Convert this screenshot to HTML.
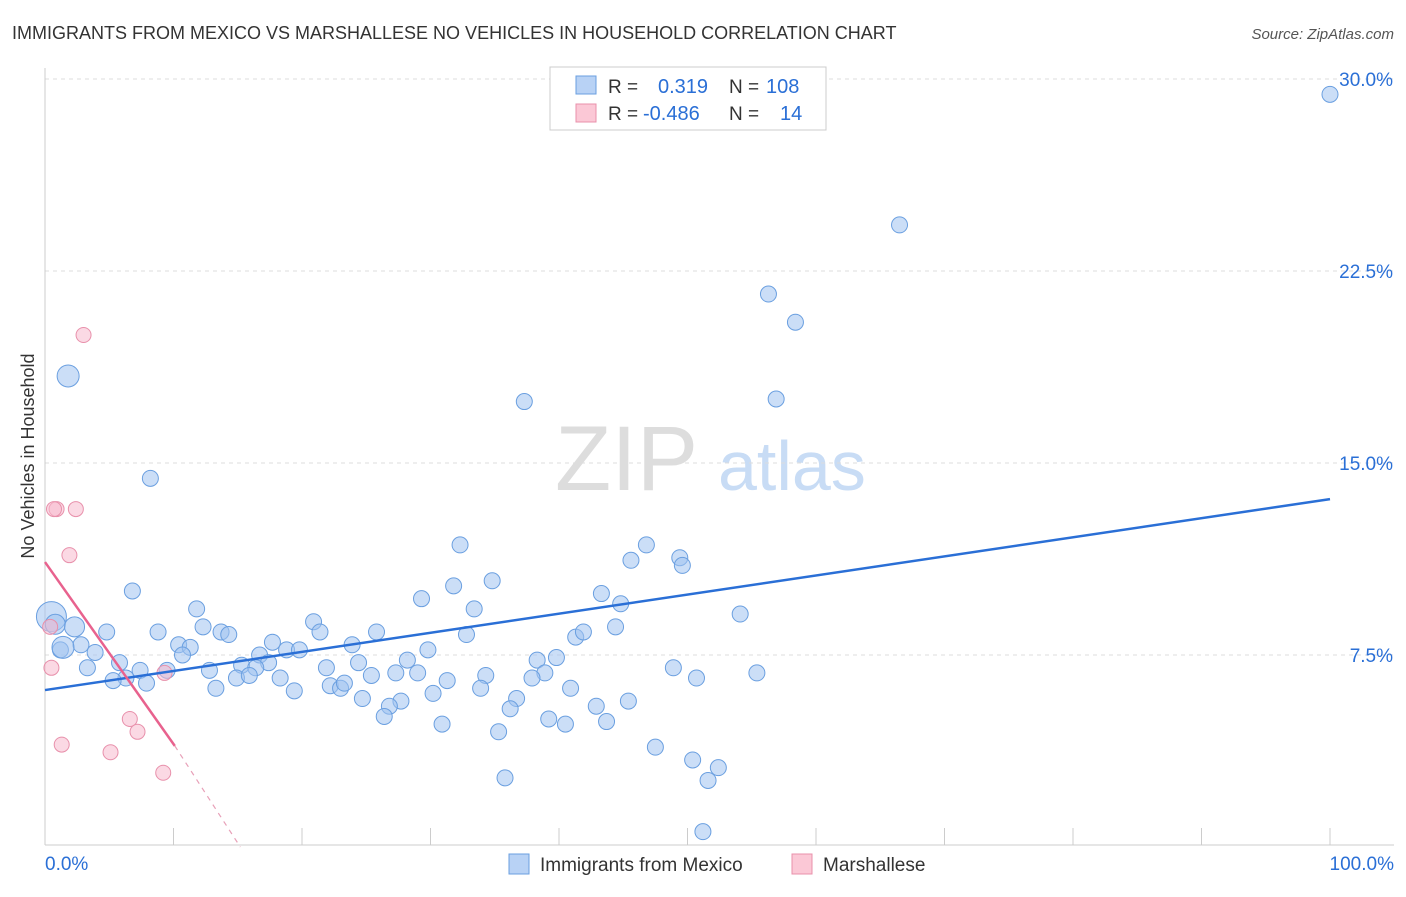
<!DOCTYPE html>
<html><head><meta charset="utf-8"><style>
body{margin:0;background:#fff;font-family:"Liberation Sans",sans-serif;}
svg text{font-family:"Liberation Sans",sans-serif;}
</style></head><body>
<svg width="1406" height="892" viewBox="0 0 1406 892">
<text x="12" y="39" font-size="18" fill="#333">IMMIGRANTS FROM MEXICO VS MARSHALLESE NO VEHICLES IN HOUSEHOLD CORRELATION CHART</text>
<text x="1394" y="39" font-size="15" fill="#555" text-anchor="end" font-style="italic">Source: ZipAtlas.com</text>
<text transform="translate(34,456) rotate(-90)" font-size="18" fill="#333" text-anchor="middle">No Vehicles in Household</text>
<g><text x="555" y="490" font-size="92" fill="#ddd" font-family="Liberation Serif">ZIP</text><text x="718" y="490" font-size="70" fill="#c8dcf5">atlas</text></g>
<g id="grid"></g><g id="axes"></g><g id="marks"></g>
<g>
<rect x="550" y="67" width="276" height="63" fill="#fff" stroke="#ccc"/>
<rect x="576" y="76" width="20" height="18" fill="#b8d2f5" stroke="#6a9fe0"/>
<rect x="576" y="104" width="20" height="18" fill="#fbc8d6" stroke="#e890ab"/>
<text x="608" y="93" font-size="19" fill="#333">R = </text><text x="658" y="93" font-size="20" fill="#2a6fd6">0.319</text><text x="729" y="93" font-size="19" fill="#333">N = </text><text x="766" y="93" font-size="20" fill="#2a6fd6">108</text>
<text x="608" y="120" font-size="19" fill="#333">R = </text><text x="643" y="120" font-size="20" fill="#2a6fd6">-0.486</text><text x="729" y="120" font-size="19" fill="#333">N = </text><text x="780" y="120" font-size="20" fill="#2a6fd6">14</text>
</g>
<g>
<rect x="509" y="854" width="20" height="20" fill="#b8d2f5" stroke="#6a9fe0"/><text x="540" y="871" font-size="19" fill="#333">Immigrants from Mexico</text>
<rect x="792" y="854" width="20" height="20" fill="#fbc8d6" stroke="#e890ab"/><text x="823" y="871" font-size="19" fill="#333">Marshallese</text>
</g>
</svg>
<script>
const blueX=[100,66.5,56.3,58.4,56.9,37.3,1.8,8.2,32.3,46.8,45.6,49.4,49.6,34.8,31.8,6.8,29.3,43.3,44.8,11.8,33.4,54.1,20.9,12.3,8.8,4.8,13.7,14.3,21.4,25.8,32.8,41.3,41.9,44.4,10.4,17.7,11.3,23.9,29.8,2.8,1.2,3.9,10.7,16.7,18.8,19.8,5.8,15.3,17.4,28.2,38.3,39.8,3.3,7.4,9.5,12.8,21.9,24.4,16.4,48.9,55.4,6.3,5.3,7.9,14.9,15.9,18.3,25.4,27.3,29.0,34.3,38.9,50.7,31.3,37.9,22.2,23.0,23.3,19.4,13.3,30.2,33.9,40.9,24.7,27.7,36.7,26.8,45.4,26.4,36.2,42.9,39.2,43.7,40.5,30.9,35.3,47.5,50.4,52.4,51.6,35.8,51.2,0.5,0.8,2.3,1.4];
const blueY=[29.4,24.3,21.6,20.5,17.5,17.4,18.4,14.4,11.8,11.8,11.2,11.3,11.0,10.4,10.2,10.0,9.7,9.9,9.5,9.3,9.3,9.1,8.8,8.6,8.4,8.4,8.4,8.3,8.4,8.4,8.3,8.2,8.4,8.6,7.9,8.0,7.8,7.9,7.7,7.9,7.7,7.6,7.5,7.5,7.7,7.7,7.2,7.1,7.2,7.3,7.3,7.4,7.0,6.9,6.9,6.9,7.0,7.2,7.0,7.0,6.8,6.6,6.5,6.4,6.6,6.7,6.6,6.7,6.8,6.8,6.7,6.8,6.6,6.5,6.6,6.3,6.2,6.4,6.1,6.2,6.0,6.2,6.2,5.8,5.7,5.8,5.5,5.7,5.1,5.4,5.5,5.0,4.9,4.8,4.8,4.5,3.9,3.4,3.1,2.6,2.7,0.6,9.0,8.7,8.6,7.8];
const blueBig=[0,0,0,0,0,0,11,0,0,0,0,0,0,0,0,0,0,0,0,0,0,0,0,0,0,0,0,0,0,0,0,0,0,0,0,0,0,0,0,0,0,0,0,0,0,0,0,0,0,0,0,0,0,0,0,0,0,0,0,0,0,0,0,0,0,0,0,0,0,0,0,0,0,0,0,0,0,0,0,0,0,0,0,0,0,0,0,0,0,0,0,0,0,0,0,0,0,0,0,0,0,0,15,10,10,11];
const pinkX=[3.0,0.9,2.4,1.9,0.4,0.5,6.6,1.3,7.2,5.1,9.2,9.3,0.7];
const pinkY=[20.0,13.2,13.2,11.4,8.6,7.0,5.0,4.0,4.5,3.7,2.9,6.8,13.2];
const yTicks=[7.5,15,22.5,30];
const yTickLabels=["7.5%","15.0%","22.5%","30.0%"];
const blueTrend=[[0,6.13],[100,13.59]];
const pinkTrend=[[0,11.13],[10.1,3.95],[15.2,0]];
const NS="http://www.w3.org/2000/svg";
const sx=v=>45+v*12.85, sy=v=>847-v*25.6;
function mk(t,a,p){const e=document.createElementNS(NS,t);for(const k in a)e.setAttribute(k,a[k]);p.appendChild(e);return e;}
const grid=document.getElementById('grid'),axes=document.getElementById('axes'),marks=document.getElementById('marks');
yTicks.forEach((t,i)=>{
 const l=mk('line',{x1:45,x2:1394,y1:sy(t),y2:sy(t),stroke:'#ddd','stroke-dasharray':'4,4'},grid);
 
 
 const tx=mk('text',{x:1393,y:sy(t)+7,'font-size':19,fill:'#2a6fd6','text-anchor':'end'},axes);
 tx.textContent=yTickLabels[i];
 
 
});
mk('line',{x1:45,x2:1394,y1:79,y2:79,stroke:'#ddd','stroke-dasharray':'4,4'},grid);
mk('line',{x1:45,x2:45,y1:68,y2:845,stroke:'#ccc'},axes);
mk('line',{x1:45,x2:1394,y1:845,y2:845,stroke:'#ccc'},axes);
for(let i=0;i<=10;i++){mk('line',{x1:sx(i*10),x2:sx(i*10),y1:828,y2:845,stroke:'#ccc'},axes);}
const x0=mk('text',{x:45,y:870,'font-size':19,fill:'#2a6fd6'},axes);x0.textContent='0.0%';


const x1=mk('text',{x:1394,y:870,'font-size':19,fill:'#2a6fd6','text-anchor':'end'},axes);x1.textContent='100.0%';


blueX.forEach((x,i)=>{
 const c=mk('circle',{cx:sx(x),cy:sy(blueY[i]),r:blueBig[i]||8,fill:'rgba(160,195,240,0.55)',stroke:'#6a9fe0','stroke-width':1},marks);
 
 
});
pinkX.forEach((x,i)=>{
 const c=mk('circle',{cx:sx(x),cy:sy(pinkY[i]),r:7.5,fill:'rgba(248,185,205,0.55)',stroke:'#e890ab','stroke-width':1},marks);
 
 
});
const bl=mk('line',{x1:sx(blueTrend[0][0]),y1:sy(blueTrend[0][1]),x2:sx(blueTrend[1][0]),y2:sy(blueTrend[1][1]),stroke:'#2a6fd6','stroke-width':2.5},marks);


const pl=mk('line',{x1:sx(pinkTrend[0][0]),y1:sy(pinkTrend[0][1]),x2:sx(pinkTrend[1][0]),y2:sy(pinkTrend[1][1]),stroke:'#e8628e','stroke-width':2.5},marks);


const pd=mk('line',{x1:sx(pinkTrend[1][0]),y1:sy(pinkTrend[1][1]),x2:sx(pinkTrend[2][0]),y2:sy(pinkTrend[2][1]),stroke:'#e8a0b8','stroke-width':1.2,'stroke-dasharray':'5,5'},marks);


</script>
</body></html>
